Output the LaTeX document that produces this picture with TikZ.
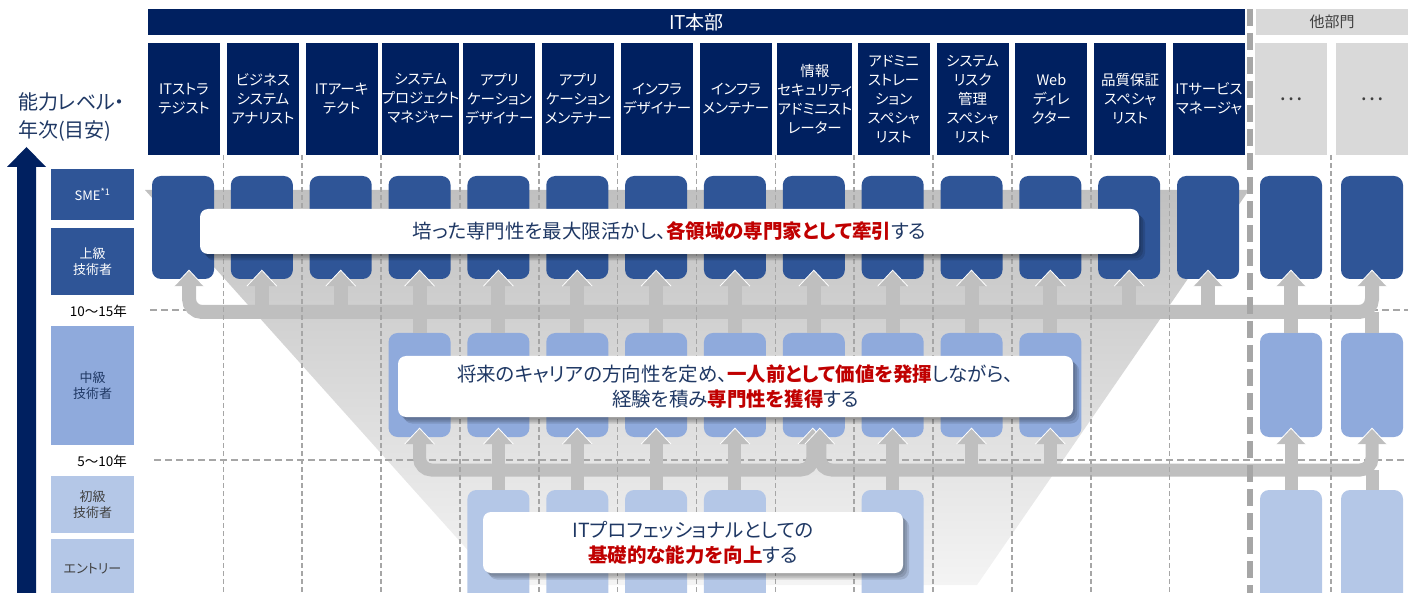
\documentclass[tikz,border=0pt]{standalone}
\usepackage{fontspec}
\setmainfont{Noto Sans CJK JP}[RawFeature=+palt]
\definecolor{navy}{HTML}{002060}
\definecolor{dkblue}{HTML}{2F5597}
\definecolor{mdblue}{HTML}{8FAADC}
\definecolor{ltblue}{HTML}{B4C7E7}
\definecolor{barg}{HTML}{BFBFBF}
\definecolor{dashg}{HTML}{A6A6A6}
\definecolor{lgray}{HTML}{D9D9D9}
\definecolor{txtnavy}{HTML}{1F3864}
\definecolor{redt}{HTML}{C00000}
\definecolor{dkgray}{HTML}{404040}
\definecolor{fun1}{HTML}{C0C0C0}
\definecolor{fun2}{HTML}{F4F4F4}
\tikzset{
 hdr/.style={fill=navy, text=white, minimum width=72pt, minimum height=112pt, inner sep=0pt, align=center, font=\fontsize{14.5}{19}\selectfont},
 ohdr/.style={fill=lgray, text=dkgray, minimum width=72pt, minimum height=112pt, inner sep=0pt, font=\fontsize{22}{22}\selectfont},
 dbox/.style={fill=dkblue, rounded corners=9pt, minimum width=62pt, minimum height=103pt, inner sep=0pt},
 mbox/.style={fill=mdblue, rounded corners=9pt, minimum width=62pt, minimum height=104pt, inner sep=0pt},
 lbox/.style={fill=ltblue, rounded corners=9pt, minimum width=62pt, minimum height=115pt, inner sep=0pt},
 bar/.style={draw=barg, line width=14pt},
 barl/.style={draw=barg, line width=13pt},
 head/.style={fill=barg, draw=white, line width=0.8pt, line join=miter},
 vdash/.style={draw=dashg, line width=1.6pt, dash pattern=on 5pt off 3pt},
 hdash/.style={draw=dashg, line width=2pt, dash pattern=on 7pt off 4pt},
 sepline/.style={draw=dashg, line width=6pt, dash pattern=on 17pt off 7pt},
 lvl/.style={minimum width=83pt, inner sep=0pt, align=center, font=\fontsize{13}{16}\selectfont},
 yr/.style={anchor=east, inner sep=0pt, text=black, font=\fontsize{13.5}{16}\selectfont},
 msg/.style={fill=white, rounded corners=8pt, inner sep=0pt, align=center, text=txtnavy,
   font=\fontsize{19.5}{25}\selectfont,
   preaction={fill=black, fill opacity=0.10, transform canvas={xshift=2pt, yshift=-2.5pt}},
   preaction={fill=black, fill opacity=0.12, transform canvas={xshift=4pt, yshift=-4.5pt}},
   preaction={fill=black, fill opacity=0.12, transform canvas={xshift=6pt, yshift=-6.5pt}}},
}
\newcommand\red[1]{{\bfseries\color{redt}#1}}
\begin{document}
\begin{tikzpicture}[x=1pt,y=-1pt]
\useasboundingbox (0,0) rectangle (1408,593);
\clip (0,0) rectangle (1408,593);

% funnel background
\shade[top color=fun1, bottom color=fun2] (145,190) -- (1249,190) -- (977,585) -- (499,585) -- cycle;

% horizontal dashed lines
\draw[hdash] (150,310) -- (1408,310);
\draw[hdash] (154,460) -- (1408,460);

% banners
\node[fill=navy, text=white, minimum width=1097pt, minimum height=26pt, inner sep=0pt, font=\fontsize{19}{19}\selectfont] (itb) at (696.5,22) {IT本部};
\node[fill=lgray, text=dkgray, minimum width=152pt, minimum height=26pt, inner sep=0pt, font=\fontsize{15}{15}\selectfont] (oth) at (1332,22) {他部門};

% column headers
\foreach \i/\txt in {0/{ITストラ\\テジスト}, 1/{ビジネス\\システム\\アナリスト}, 2/{ITアーキ\\テクト},
  3/{システム\\プロジェクト\\マネジャー}, 4/{アプリ\\ケーション\\デザイナー}, 5/{アプリ\\ケーション\\メンテナー},
  6/{インフラ\\デザイナー}, 7/{インフラ\\メンテナー}, 8/{情報\\セキュリティ\\アドミニスト\\レーター},
  9/{アドミニ\\ストレー\\ション\\スペシャ\\リスト}, 10/{システム\\リスク\\管理\\スペシャ\\リスト},
  11/{Web\\ディレ\\クター}, 12/{品質保証\\スペシャ\\リスト}, 13/{ITサービス\\マネージャ}}{
  \pgfmathsetmacro{\hx}{184+78.85*\i}
  \node[hdr] (h\i) at (\hx,99) {\txt};
}
\node[ohdr] (h14) at (1291,99) {…};
\node[ohdr] (h15) at (1372,99) {…};

% boxes
\foreach \i in {0,...,13}{
  \pgfmathsetmacro{\cx}{183+78.85*\i}
  \node[dbox] (t\i) at (\cx,227.5) {};
}
\node[dbox] (t14) at (1291,227.5) {};
\node[dbox] (t15) at (1372,227.5) {};
\foreach \i in {3,...,11}{
  \pgfmathsetmacro{\cx}{183+78.85*\i}
  \node[mbox] (m\i) at (\cx,385) {};
}
\node[mbox] (m14) at (1291,385) {};
\node[mbox] (m15) at (1372,385) {};
\foreach \i in {4,5,6,7,9}{
  \pgfmathsetmacro{\cx}{183+78.85*\i}
  \node[lbox] (l\i) at (\cx,547.5) {};
}
\node[lbox] (l14) at (1291,547.5) {};
\node[lbox] (l15) at (1372,547.5) {};

\coordinate (barU) at (0,312);
\coordinate (barL) at (0,470);

% upper bar
\draw[bar, rounded corners=13pt] ([xshift=6pt,yshift=-6pt]t0.south) |- (t15.south |- barU) -- ([yshift=-6pt]t15.south);
\foreach \i in {1,...,14}{
  \draw[bar] (t\i.south |- barU) -- ([yshift=-6pt]t\i.south);
}
\foreach \i in {3,...,11,14,15}{
  \draw[bar] (m\i.north |- barU) -- (m\i.north);
}
\path[head] ([xshift=-9pt,yshift=-7pt]t0.south) -- ([xshift=6pt,yshift=9pt]t0.south) -- ([xshift=21pt,yshift=-7pt]t0.south);
\foreach \i in {1,...,15}{
  \path[head] ([xshift=-15pt,yshift=-7pt]t\i.south) -- ([yshift=9pt]t\i.south) -- ([xshift=15pt,yshift=-7pt]t\i.south);
}

% lower bar
\draw[barl, rounded corners=12pt] ([yshift=-6pt]m3.south) |- ([xshift=-1pt]m8.south |- barL) -- ([xshift=-1pt,yshift=-6pt]m8.south);
\draw[barl, rounded corners=12pt] ([xshift=6pt,yshift=-6pt]m8.south) |- (m15.south |- barL) -- ([yshift=-6pt]m15.south);
\foreach \i in {4,5,6,7,9,10,11,14}{
  \draw[barl] (m\i.south |- barL) -- ([yshift=-6pt]m\i.south);
}
\foreach \i in {4,5,6,7,9,14,15}{
  \draw[barl] (l\i.north |- barL) -- (l\i.north);
}
\foreach \i in {3,4,5,6,7,9,10,11,14,15}{
  \path[head] ([xshift=-15pt,yshift=-7pt]m\i.south) -- ([yshift=9pt]m\i.south) -- ([xshift=15pt,yshift=-7pt]m\i.south);
}
\path[head] ([xshift=-16pt,yshift=-7pt]m8.south) -- ([xshift=-1pt,yshift=9pt]m8.south) -- ([xshift=14pt,yshift=-7pt]m8.south);
\path[head] ([xshift=-9pt,yshift=-7pt]m8.south) -- ([xshift=6pt,yshift=9pt]m8.south) -- ([xshift=21pt,yshift=-7pt]m8.south);

% vertical dashed lines
\foreach \i in {0,...,12}{
  \pgfmathsetmacro{\dx}{223.35+78.85*\i}
  \draw[vdash] (\dx,155) -- (\dx,593);
}
\draw[vdash] (1331,155) -- (1331,593);
\draw[sepline] (1250,9) -- (1250,593);

% message boxes
\node[msg, minimum width=939pt, minimum height=45pt] (msg1) at (669.5,231.5)
  {培った専門性を最大限活かし、\red{各領域の専門家として牽引}する};
\node[msg, minimum width=675pt, minimum height=61pt] (msg2) at (735.5,386.5)
  {将来のキャリアの方向性を定め、\red{一人前として価値を発揮}しながら、\\経験を積み\red{専門性を獲得}する};
\node[msg, minimum width=420pt, minimum height=61pt] (msg3) at (693,542.5)
  {ITプロフェッショナルとしての\\\red{基礎的な能力を向上}する};

% left axis
\fill[navy] (17,593) -- (17,167) -- (7,167) -- (26.5,147) -- (46,167) -- (36,167) -- (36,593) -- cycle;
\node[anchor=west, inner sep=0pt, align=left, text=txtnavy, font=\fontsize{20}{28}\selectfont] (axl) at (18,117) {能力レベル・\\年次(目安)};

\node[lvl, fill=dkblue, text=white, minimum height=51pt] (lvsme) at (92.5,194.5) {SME\textsuperscript{*1}};
\node[lvl, fill=dkblue, text=white, minimum height=67pt] (lvjo) at (92.5,261.5) {上級\\技術者};
\node[yr] (y1) at (127,311) {10～15年};
\node[lvl, fill=mdblue, text=txtnavy, minimum height=119pt] (lvchu) at (92.5,385.5) {中級\\技術者};
\node[yr] (y2) at (127,461) {5～10年};
\node[lvl, fill=ltblue, text=dkgray, minimum height=57pt] (lvsho) at (92.5,504.5) {初級\\技術者};
\node[lvl, fill=ltblue, text=dkgray, minimum height=60pt] (lvent) at (92.5,569) {エントリー};
\end{tikzpicture}
\end{document}
